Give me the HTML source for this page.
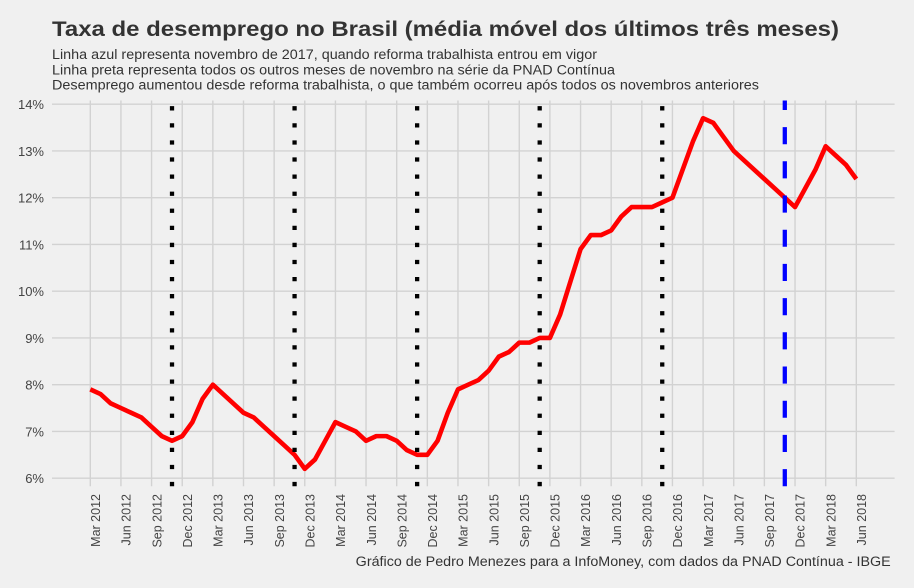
<!DOCTYPE html>
<html>
<head>
<meta charset="utf-8">
<style>
  html, body { margin: 0; padding: 0; background: #f0f0f0; }
  svg { display: block; }
  text { font-family: "Liberation Sans", Arial, Helvetica, sans-serif; }
</style>
</head>
<body>
<svg width="914" height="588" viewBox="0 0 914 588" xmlns="http://www.w3.org/2000/svg">
  <rect x="0" y="0" width="914" height="588" fill="#f0f0f0"/>

  <!-- Title & subtitle -->
  <text x="52" y="36" font-size="21" font-weight="bold" fill="#333333" textLength="787" lengthAdjust="spacingAndGlyphs">Taxa de desemprego no Brasil (média móvel dos últimos três meses)</text>
  <text x="52" y="59" font-size="13.5" fill="#333333" textLength="545" lengthAdjust="spacingAndGlyphs">Linha azul representa novembro de 2017, quando reforma trabalhista entrou em vigor</text>
  <text x="52" y="74.5" font-size="13.5" fill="#333333" textLength="563" lengthAdjust="spacingAndGlyphs">Linha preta representa todos os outros meses de novembro na série da PNAD Contínua</text>
  <text x="52" y="89.5" font-size="13.5" fill="#333333" textLength="707" lengthAdjust="spacingAndGlyphs">Desemprego aumentou desde reforma trabalhista, o que também ocorreu após todos os novembros anteriores</text>

  <!-- Grid -->
  <g stroke="#d2d2d2" stroke-width="1.4" fill="none">
    <line x1="52" x2="894.6" y1="478.2" y2="478.2"/>
    <line x1="52" x2="894.6" y1="431.45" y2="431.45"/>
    <line x1="52" x2="894.6" y1="384.7" y2="384.7"/>
    <line x1="52" x2="894.6" y1="337.95" y2="337.95"/>
    <line x1="52" x2="894.6" y1="291.2" y2="291.2"/>
    <line x1="52" x2="894.6" y1="244.45" y2="244.45"/>
    <line x1="52" x2="894.6" y1="197.7" y2="197.7"/>
    <line x1="52" x2="894.6" y1="150.95" y2="150.95"/>
    <line x1="52" x2="894.6" y1="104.2" y2="104.2"/>

    <line y1="100.5" y2="486.2" x1="90.30" x2="90.30"/>
    <line y1="100.5" y2="486.2" x1="120.94" x2="120.94"/>
    <line y1="100.5" y2="486.2" x1="151.58" x2="151.58"/>
    <line y1="100.5" y2="486.2" x1="182.22" x2="182.22"/>
    <line y1="100.5" y2="486.2" x1="212.86" x2="212.86"/>
    <line y1="100.5" y2="486.2" x1="243.50" x2="243.50"/>
    <line y1="100.5" y2="486.2" x1="274.14" x2="274.14"/>
    <line y1="100.5" y2="486.2" x1="304.78" x2="304.78"/>
    <line y1="100.5" y2="486.2" x1="335.42" x2="335.42"/>
    <line y1="100.5" y2="486.2" x1="366.06" x2="366.06"/>
    <line y1="100.5" y2="486.2" x1="396.70" x2="396.70"/>
    <line y1="100.5" y2="486.2" x1="427.34" x2="427.34"/>
    <line y1="100.5" y2="486.2" x1="457.98" x2="457.98"/>
    <line y1="100.5" y2="486.2" x1="488.62" x2="488.62"/>
    <line y1="100.5" y2="486.2" x1="519.26" x2="519.26"/>
    <line y1="100.5" y2="486.2" x1="549.90" x2="549.90"/>
    <line y1="100.5" y2="486.2" x1="580.54" x2="580.54"/>
    <line y1="100.5" y2="486.2" x1="611.18" x2="611.18"/>
    <line y1="100.5" y2="486.2" x1="641.82" x2="641.82"/>
    <line y1="100.5" y2="486.2" x1="672.46" x2="672.46"/>
    <line y1="100.5" y2="486.2" x1="703.10" x2="703.10"/>
    <line y1="100.5" y2="486.2" x1="733.74" x2="733.74"/>
    <line y1="100.5" y2="486.2" x1="764.38" x2="764.38"/>
    <line y1="100.5" y2="486.2" x1="795.02" x2="795.02"/>
    <line y1="100.5" y2="486.2" x1="825.66" x2="825.66"/>
    <line y1="100.5" y2="486.2" x1="856.30" x2="856.30"/>
  </g>

  <!-- Y labels -->
  <g font-size="13" fill="#444444" text-anchor="end">
    <text x="44" y="483.2">6%</text>
    <text x="44" y="436.45">7%</text>
    <text x="44" y="389.7">8%</text>
    <text x="44" y="342.95">9%</text>
    <text x="44" y="296.2">10%</text>
    <text x="44" y="249.45">11%</text>
    <text x="44" y="202.7">12%</text>
    <text x="44" y="155.95">13%</text>
    <text x="44" y="109.2">14%</text>
  </g>

  <!-- X labels -->
  <g font-size="12.5" fill="#444444" text-anchor="end">
    <text transform="translate(100.0,494) rotate(-90)">Mar 2012</text>
    <text transform="translate(130.64,494) rotate(-90)">Jun 2012</text>
    <text transform="translate(161.28,494) rotate(-90)">Sep 2012</text>
    <text transform="translate(191.92,494) rotate(-90)">Dec 2012</text>
    <text transform="translate(222.56,494) rotate(-90)">Mar 2013</text>
    <text transform="translate(253.20,494) rotate(-90)">Jun 2013</text>
    <text transform="translate(283.84,494) rotate(-90)">Sep 2013</text>
    <text transform="translate(314.48,494) rotate(-90)">Dec 2013</text>
    <text transform="translate(345.12,494) rotate(-90)">Mar 2014</text>
    <text transform="translate(375.76,494) rotate(-90)">Jun 2014</text>
    <text transform="translate(406.40,494) rotate(-90)">Sep 2014</text>
    <text transform="translate(437.04,494) rotate(-90)">Dec 2014</text>
    <text transform="translate(467.68,494) rotate(-90)">Mar 2015</text>
    <text transform="translate(498.32,494) rotate(-90)">Jun 2015</text>
    <text transform="translate(528.96,494) rotate(-90)">Sep 2015</text>
    <text transform="translate(559.60,494) rotate(-90)">Dec 2015</text>
    <text transform="translate(590.24,494) rotate(-90)">Mar 2016</text>
    <text transform="translate(620.88,494) rotate(-90)">Jun 2016</text>
    <text transform="translate(651.52,494) rotate(-90)">Sep 2016</text>
    <text transform="translate(682.16,494) rotate(-90)">Dec 2016</text>
    <text transform="translate(712.80,494) rotate(-90)">Mar 2017</text>
    <text transform="translate(743.44,494) rotate(-90)">Jun 2017</text>
    <text transform="translate(774.08,494) rotate(-90)">Sep 2017</text>
    <text transform="translate(804.72,494) rotate(-90)">Dec 2017</text>
    <text transform="translate(835.36,494) rotate(-90)">Mar 2018</text>
    <text transform="translate(866.00,494) rotate(-90)">Jun 2018</text>
  </g>

  <!-- Red series -->
  <polyline fill="none" stroke="#ff0000" stroke-width="4.6" stroke-linejoin="round" stroke-linecap="butt"
    points="90.30,389.38 100.51,394.05 110.73,403.4 120.94,408.08 131.15,412.75 141.37,417.43 151.58,426.78 161.79,436.13 172.01,440.8 182.22,436.13 192.43,422.1 202.65,398.73 212.86,384.7 223.07,394.05 233.29,403.4 243.50,412.75 253.71,417.43 263.93,426.78 274.14,436.13 284.35,445.48 294.57,454.83 304.78,468.85 314.99,459.5 325.21,440.8 335.42,422.1 345.63,426.78 355.85,431.45 366.06,440.8 376.27,436.13 386.49,436.13 396.70,440.8 406.91,450.15 417.13,454.83 427.34,454.83 437.55,440.8 447.77,412.75 457.98,389.38 468.19,384.7 478.41,380.03 488.62,370.68 498.83,356.65 509.05,351.98 519.26,342.63 529.47,342.63 539.69,337.95 549.90,337.95 560.11,314.58 570.33,281.85 580.54,249.13 590.75,235.1 600.97,235.1 611.18,230.43 621.39,216.4 631.60,207.05 641.82,207.05 652.03,207.05 662.24,202.38 672.46,197.7 682.67,169.65 692.88,141.6 703.10,118.23 713.31,122.9 723.52,136.93 733.74,150.95 743.95,160.3 754.16,169.65 764.38,179.0 774.59,188.35 784.80,197.7 795.02,207.05 805.23,188.35 815.44,169.65 825.66,146.28 835.87,155.63 846.08,164.98 856.30,179.0"/>

  <!-- Black dotted November lines -->
  <g stroke="#000000" stroke-width="4.27" stroke-dasharray="4.27 12.81" stroke-linecap="butt">
    <line x1="172.01" x2="172.01" y1="486.2" y2="100.5"/>
    <line x1="294.57" x2="294.57" y1="486.2" y2="100.5"/>
    <line x1="417.13" x2="417.13" y1="486.2" y2="100.5"/>
    <line x1="539.69" x2="539.69" y1="486.2" y2="100.5"/>
    <line x1="662.24" x2="662.24" y1="486.2" y2="100.5"/>
  </g>

  <!-- Blue dashed line (Nov 2017) -->
  <line x1="784.80" x2="784.80" y1="486.2" y2="100.5" stroke="#0000ff" stroke-width="4.27" stroke-dasharray="17.1 17.1" stroke-linecap="butt"/>

  <!-- Caption -->
  <text x="890.7" y="566" font-size="13.5" fill="#333333" text-anchor="end" textLength="535" lengthAdjust="spacingAndGlyphs">Gráfico de Pedro Menezes para a InfoMoney, com dados da PNAD Contínua - IBGE</text>
</svg>
</body>
</html>
